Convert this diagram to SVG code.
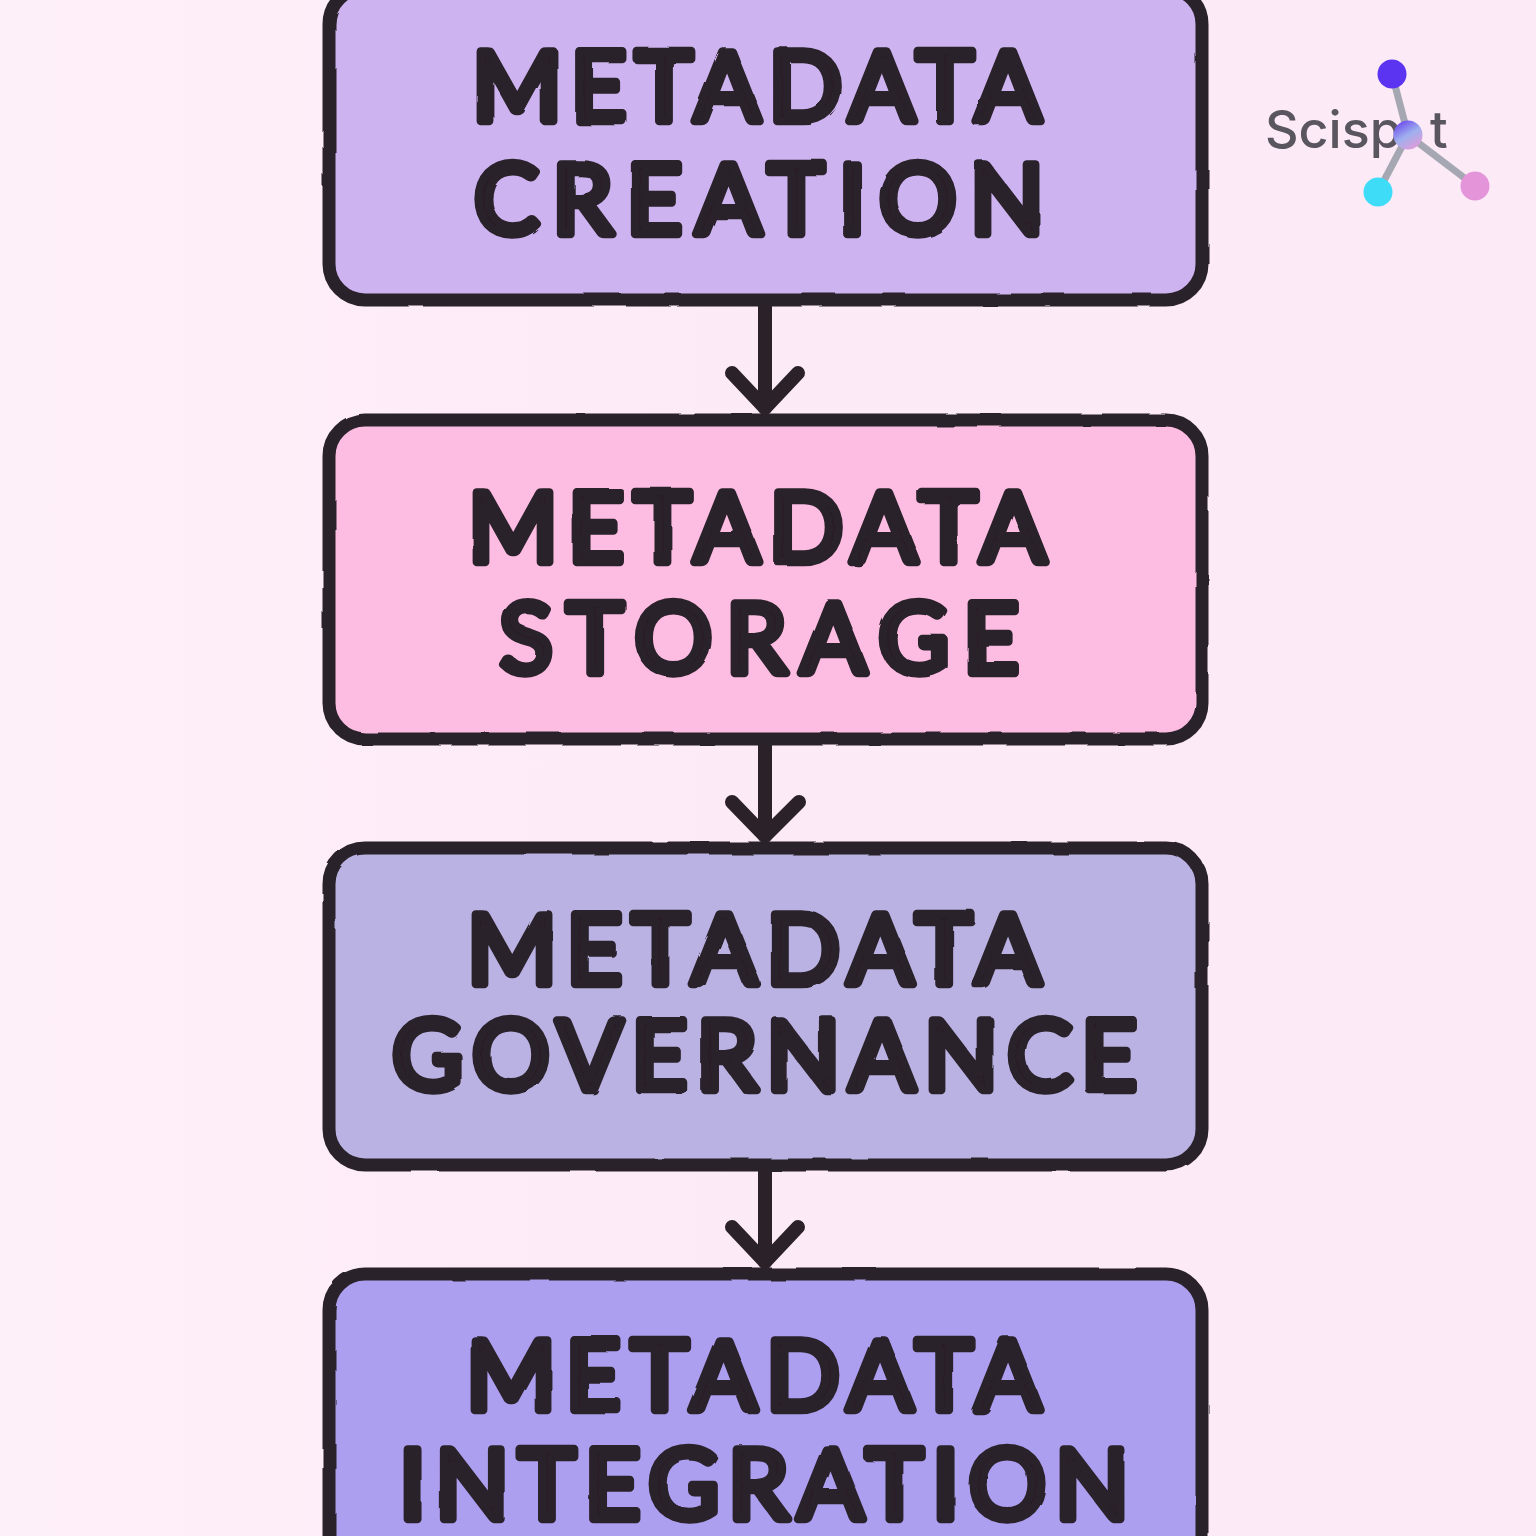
<svg xmlns="http://www.w3.org/2000/svg" width="1536" height="1536" viewBox="0 0 1536 1536">
<defs>
<linearGradient id="bg" x1="0" y1="0" x2="1" y2="0"><stop offset="0" stop-color="#fef0f9"/><stop offset="0.5" stop-color="#fdeaf7"/><stop offset="1" stop-color="#fdeaf7"/></linearGradient>
<linearGradient id="hub" x1="0.2" y1="0" x2="0.8" y2="1"><stop offset="0" stop-color="#6a45ee"/><stop offset="0.5" stop-color="#9fb0ee"/><stop offset="1" stop-color="#e59ad8"/></linearGradient>
<filter id="ink" x="-2%" y="-2%" width="104%" height="104%" filterUnits="objectBoundingBox"><feTurbulence type="fractalNoise" baseFrequency="0.025" numOctaves="1" seed="4" result="n"/><feDisplacementMap in="SourceGraphic" in2="n" scale="3"/></filter>
</defs>
<style>
.box{stroke:#2b2229;stroke-width:13;filter:url(#ink)}
.label{font-family:"Lato","Liberation Sans",sans-serif;font-weight:400;font-size:97px;fill:#2a2029;stroke:#2a2029;stroke-width:8.5;stroke-linejoin:round;stroke-linecap:round;filter:url(#ink)}
.conn{stroke:#2b2229;stroke-width:14;fill:none;stroke-linecap:round;stroke-linejoin:round}
.logo{font-family:"Inter","Liberation Sans",sans-serif;font-size:52px;font-weight:500;fill:#5a5660}
.stem{stroke:#a5a8b2;stroke-width:7;fill:none}
</style>
<rect width="1536" height="1536" fill="url(#bg)"/>
<g id="connectors">
<path class="conn" d="M765 306V408"/><path class="conn" d="M732 373L765 408L798 373"/>
<path class="conn" d="M765 745V836"/><path class="conn" d="M732 802L765 836L799 802"/>
<path class="conn" d="M765 1171V1262"/><path class="conn" d="M732 1227L765 1262L798 1227"/>
</g>
<g id="node-creation">
<rect class="box" x="329" y="-12" width="873" height="312" rx="36" fill="#cdb3f0"/>
<text class="label" x="472" y="121" textLength="569" lengthAdjust="spacing">METADATA</text>
<text class="label" x="474" y="234" textLength="570" lengthAdjust="spacing">CREATION</text>
</g>
<g id="node-storage">
<rect class="box" x="329" y="420" width="873" height="319" rx="36" fill="#fdbde3"/>
<text class="label" x="468" y="562" textLength="578" lengthAdjust="spacing">METADATA</text>
<text class="label" x="500" y="673" textLength="519" lengthAdjust="spacing">STORAGE</text>
</g>
<g id="node-governance">
<rect class="box" x="329" y="848" width="873" height="317" rx="36" fill="#b9b2e2"/>
<text class="label" x="467" y="984" textLength="574" lengthAdjust="spacing">METADATA</text>
<text class="label" x="392" y="1090" textLength="745" lengthAdjust="spacing">GOVERNANCE</text>
</g>
<g id="node-integration">
<rect class="box" x="329" y="1274" width="873" height="320" rx="36" fill="#ad9fef"/>
<text class="label" x="466" y="1410" textLength="575" lengthAdjust="spacing">METADATA</text>
<text class="label" x="399" y="1519" textLength="730" lengthAdjust="spacing">INTEGRATION</text>
</g>
<g id="logo">
<text class="logo" x="1265" y="148">Scisp</text>
<text class="logo" x="1430" y="148">t</text>
<path class="stem" d="M1392 74L1408 135M1408 135L1378 192M1408 135L1475 186"/>
<circle cx="1392" cy="74" r="14.5" fill="#5b34f2"/>
<circle cx="1408" cy="135" r="14.5" fill="url(#hub)"/>
<circle cx="1378" cy="192" r="14.5" fill="#3fdcf8"/>
<circle cx="1475" cy="186" r="14.5" fill="#e495d9"/>
</g>
</svg>
